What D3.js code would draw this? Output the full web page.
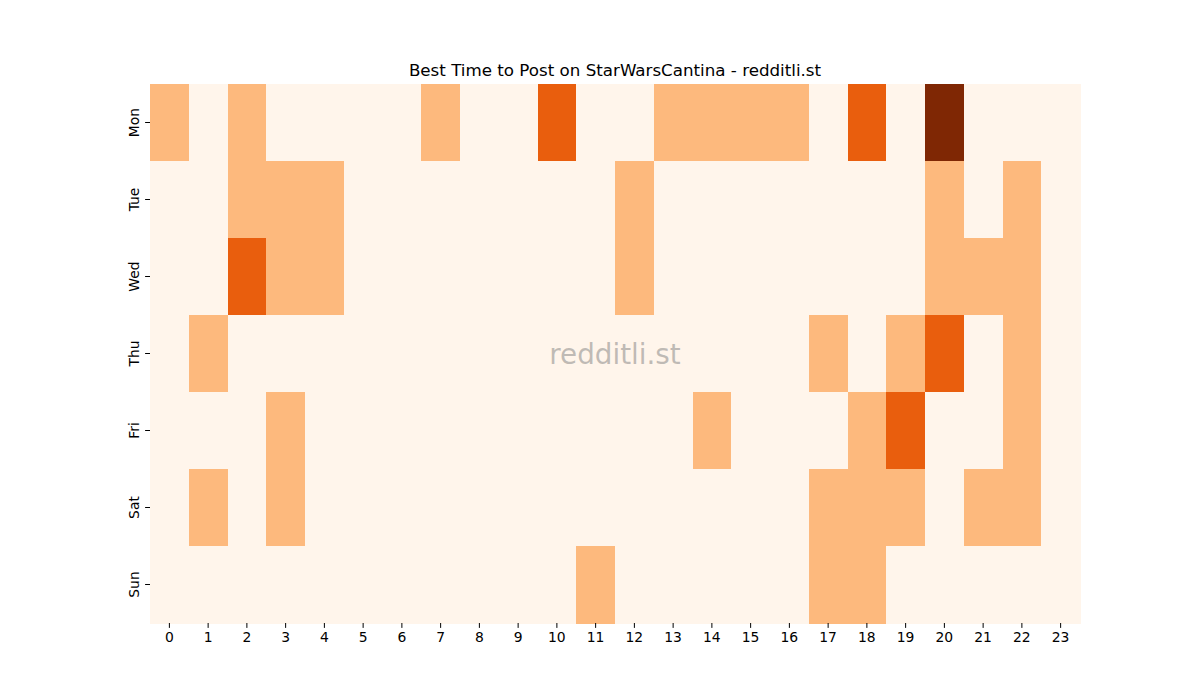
<!DOCTYPE html>
<meta charset="utf-8">
<script src="https://d3js.org/d3.v7.min.js"></script>
<style>
  body { margin: 0; background: #fff; }
  text { font-family: "DejaVu Sans", sans-serif; }
</style>
<div id="my_dataviz"></div>
<script>
  // rows and columns of the heatmap
  var days = ["Mon", "Tue", "Wed", "Thu", "Fri", "Sat", "Sun"];
  var hours = d3.range(24).map(String);

  // activity level per day (0..3), one entry per hour
  var mon = [1,0,1,0,0,0,0,1,0,0,2,0,0,1,1,1,1,0,2,0,3,0,0,0];
  var tue = [0,0,1,1,1,0,0,0,0,0,0,0,1,0,0,0,0,0,0,0,1,0,1,0];
  var wed = [0,0,2,1,1,0,0,0,0,0,0,0,1,0,0,0,0,0,0,0,1,1,1,0];
  var thu = [0,1,0,0,0,0,0,0,0,0,0,0,0,0,0,0,0,1,0,1,2,0,1,0];
  var fri = [0,0,0,1,0,0,0,0,0,0,0,0,0,0,1,0,0,0,1,2,0,0,1,0];
  var sat = [0,1,0,1,0,0,0,0,0,0,0,0,0,0,0,0,0,1,1,1,0,1,1,0];
  var sun = [0,0,0,0,0,0,0,0,0,0,0,1,0,0,0,0,0,1,1,0,0,0,0,0];

  var levels = [mon, tue, wed, thu, fri, sat, sun];
  var data = [];
  days.forEach(function (d, i) {
    levels[i].forEach(function (v, h) {
      data.push({ day: d, hour: hours[h], value: v });
    });
  });

  var margin = { top: 84, right: 120, bottom: 77, left: 150 },
    width = 1200 - margin.left - margin.right,
    height = 700 - margin.top - margin.bottom;

  var svg = d3.select("#my_dataviz")
    .append("svg")
    .attr("width", 1200)
    .attr("height", 700)
    .append("g")
    .attr("transform", "translate(" + margin.left + "," + margin.top + ")");

  var x = d3.scaleBand().domain(hours).range([0, width]);
  var y = d3.scaleBand().domain(days).range([0, height]);

  var color = d3.scaleOrdinal()
    .domain([0, 1, 2, 3])
    .range(["#fff5eb", "#fdb97d", "#e95e0d", "#7f2704"]);

  svg.append("g")
    .attr("shape-rendering", "crispEdges")
    .selectAll("rect")
    .data(data)
    .enter()
    .append("rect")
    .attr("x", function (d) { return x(d.hour); })
    .attr("y", function (d) { return y(d.day); })
    .attr("width", x.bandwidth() + 0.5)
    .attr("height", y.bandwidth() + 0.5)
    .attr("fill", function (d) { return color(d.value); });

  // X axis
  var xAxis = svg.append("g")
    .attr("transform", "translate(0," + height + ")")
    .call(d3.axisBottom(x).tickSize(4.9).tickPadding(4));
  xAxis.select(".domain").remove();
  xAxis.selectAll("text").style("font-size", "13.9px").attr("fill", "#000");

  // Y axis
  var yAxis = svg.append("g")
    .call(d3.axisLeft(y).tickSize(4.9).tickPadding(5));
  yAxis.select(".domain").remove();
  yAxis.selectAll("text")
    .style("font-size", "13.9px")
    .attr("fill", "#000")
    .attr("text-anchor", "middle")
    .attr("transform", "rotate(-90)")
    .attr("x", 0)
    .attr("y", -11)
    .attr("dy", "0");

  // title
  svg.append("text")
    .attr("x", width / 2)
    .attr("y", -8)
    .attr("text-anchor", "middle")
    .style("font-size", "16.7px")
    .text("Best Time to Post on StarWarsCantina - redditli.st");

  // watermark
  svg.append("text")
    .attr("x", width / 2)
    .attr("y", height / 2 + 10)
    .attr("text-anchor", "middle")
    .style("font-size", "27.8px")
    .attr("fill", "#808080")
    .attr("fill-opacity", 0.5)
    .text("redditli.st");
</script>
